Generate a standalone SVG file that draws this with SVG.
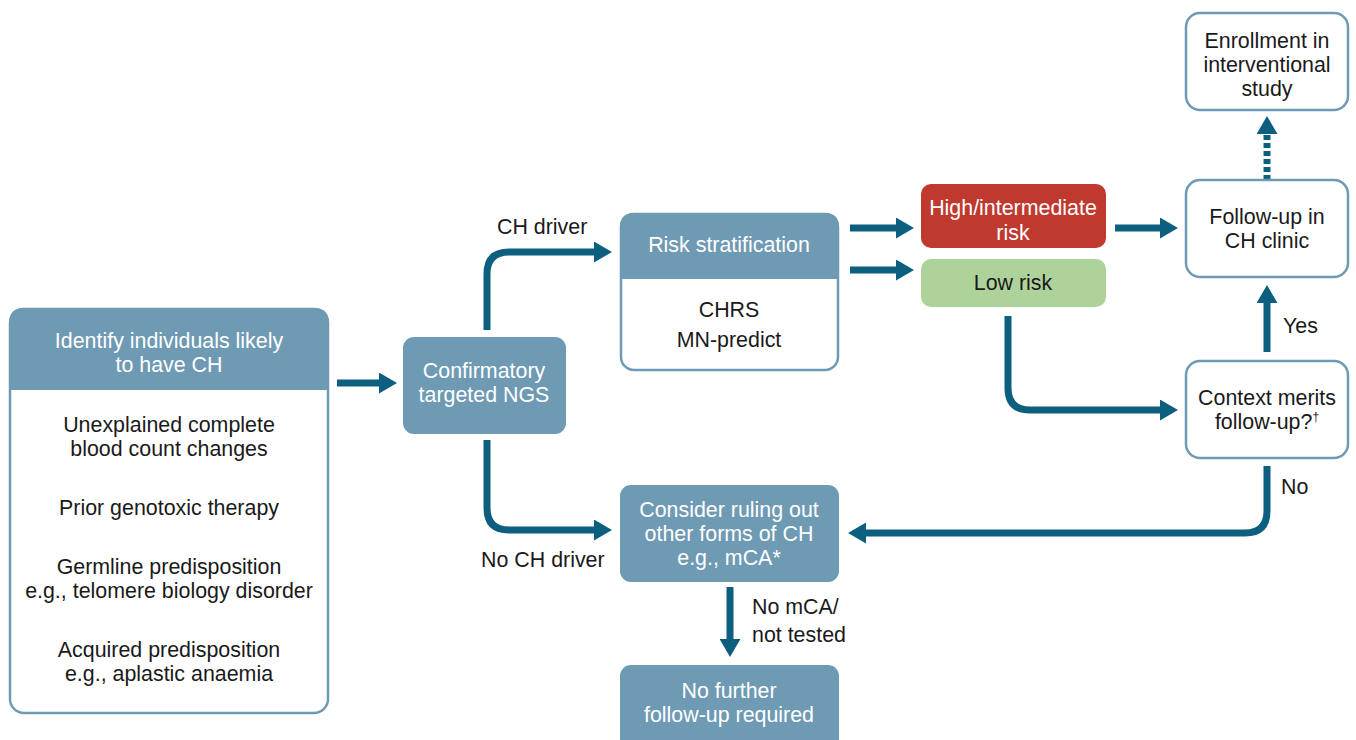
<svg xmlns="http://www.w3.org/2000/svg" width="1356" height="740" viewBox="0 0 1356 740">
<defs>
<style>
.t{font-family:"Liberation Sans",Arial,sans-serif;font-size:21.4px;text-anchor:middle;fill:#1a1a1a}
.w{fill:#ffffff}
.fill{fill:#6f9ab3;stroke:#6f9ab3;stroke-width:2}
.out{fill:#ffffff;stroke:#6f9ab3;stroke-width:2.5}
.c{fill:none;stroke:#0d5f7f;stroke-width:7}
.lbl{font-family:"Liberation Sans",Arial,sans-serif;font-size:21.4px;fill:#1a1a1a}
</style>
<marker id="ah" viewBox="0 0 18 21" refX="0" refY="10.5" markerWidth="18" markerHeight="21" orient="auto" markerUnits="userSpaceOnUse">
<path d="M0,0 L18,10.5 L0,21 Z" fill="#0d5f7f"/>
</marker>
</defs>
<rect width="1356" height="740" fill="#ffffff"/>

<g id="connectors">
<path class="c" d="M337,383 H379" marker-end="url(#ah)"/>
<path class="c" d="M487,330 V274 Q487,252 509,252 H594" marker-end="url(#ah)"/>
<path class="c" d="M487,440 V508 Q487,530 509,530 H594" marker-end="url(#ah)"/>
<path class="c" d="M850,228 H896" marker-end="url(#ah)"/>
<path class="c" d="M850,270 H896" marker-end="url(#ah)"/>
<path class="c" d="M1115,228 H1160" marker-end="url(#ah)"/>
<path class="c" d="M1008,316 V388 Q1008,410 1030,410 H1160" marker-end="url(#ah)"/>
<path class="c" d="M1267,352 V303" marker-end="url(#ah)"/>
<path class="c" d="M1267,180 V134" stroke-dasharray="5,3" marker-end="url(#ah)"/>
<path class="c" d="M1267,466 V511 Q1267,533 1245,533 H866" marker-end="url(#ah)"/>
<path class="c" d="M730,587 V639" marker-end="url(#ah)"/>
<text class="lbl" x="497" y="234">CH driver</text>
<text class="lbl" x="481" y="567">No CH driver</text>
<text class="lbl" x="1283" y="333">Yes</text>
<text class="lbl" x="1281" y="494">No</text>
<text class="lbl" x="752" y="614">No mCA/</text>
<text class="lbl" x="752" y="642">not tested</text>
</g>

<g id="identify">
<rect class="out" x="10" y="309" width="318" height="404" rx="14"/>
<path class="fill" d="M10,389 V323 Q10,309 24,309 H314 Q328,309 328,323 V389 Z"/>
<text class="t w" x="169" y="348">Identify individuals likely</text>
<text class="t w" x="169" y="372">to have CH</text>
<text class="t" x="169" y="432">Unexplained complete</text>
<text class="t" x="169" y="456">blood count changes</text>
<text class="t" x="169" y="515">Prior genotoxic therapy</text>
<text class="t" x="169" y="574">Germline predisposition</text>
<text class="t" x="169" y="598">e.g., telomere biology disorder</text>
<text class="t" x="169" y="657">Acquired predisposition</text>
<text class="t" x="169" y="681">e.g., aplastic anaemia</text>
</g>

<g id="ngs">
<rect class="fill" x="404" y="338" width="161" height="95" rx="10"/>
<text class="t w" x="484" y="378">Confirmatory</text>
<text class="t w" x="484" y="402">targeted NGS</text>
</g>

<g id="risk">
<rect class="out" x="621" y="214" width="217" height="156" rx="13"/>
<path class="fill" d="M621,278 V227 Q621,214 634,214 H825 Q838,214 838,227 V278 Z"/>
<text class="t w" x="729" y="252">Risk stratification</text>
<text class="t" x="729" y="317">CHRS</text>
<text class="t" x="729" y="347">MN-predict</text>
</g>

<g id="high">
<rect x="921" y="184" width="185" height="64" rx="10" fill="#c0392f"/>
<text class="t w" x="1013" y="215">High/intermediate</text>
<text class="t w" x="1013" y="240">risk</text>
</g>

<g id="low">
<rect x="921" y="259" width="185" height="48" rx="10" fill="#aed39a"/>
<text class="t" x="1013" y="290">Low risk</text>
</g>

<g id="followup">
<rect class="out" x="1186" y="180" width="162" height="97" rx="14"/>
<text class="t" x="1267" y="224">Follow-up in</text>
<text class="t" x="1267" y="248">CH clinic</text>
</g>

<g id="enroll">
<rect class="out" x="1186" y="13" width="162" height="97" rx="14"/>
<text class="t" x="1267" y="48">Enrollment in</text>
<text class="t" x="1267" y="72">interventional</text>
<text class="t" x="1267" y="96">study</text>
</g>

<g id="context">
<rect class="out" x="1186" y="361" width="162" height="97" rx="14"/>
<text class="t" x="1267" y="405">Context merits</text>
<text class="t" x="1267" y="429">follow-up?<tspan font-size="12" dy="-8">†</tspan></text>
</g>

<g id="consider">
<rect class="fill" x="621" y="486" width="217" height="95" rx="10"/>
<text class="t w" x="729" y="517">Consider ruling out</text>
<text class="t w" x="729" y="541">other forms of CH</text>
<text class="t w" x="729" y="565">e.g., mCA*</text>
</g>

<g id="nofurther">
<rect class="fill" x="621" y="666" width="217" height="90" rx="10"/>
<text class="t w" x="729" y="698">No further</text>
<text class="t w" x="729" y="722">follow-up required</text>
</g>
</svg>
